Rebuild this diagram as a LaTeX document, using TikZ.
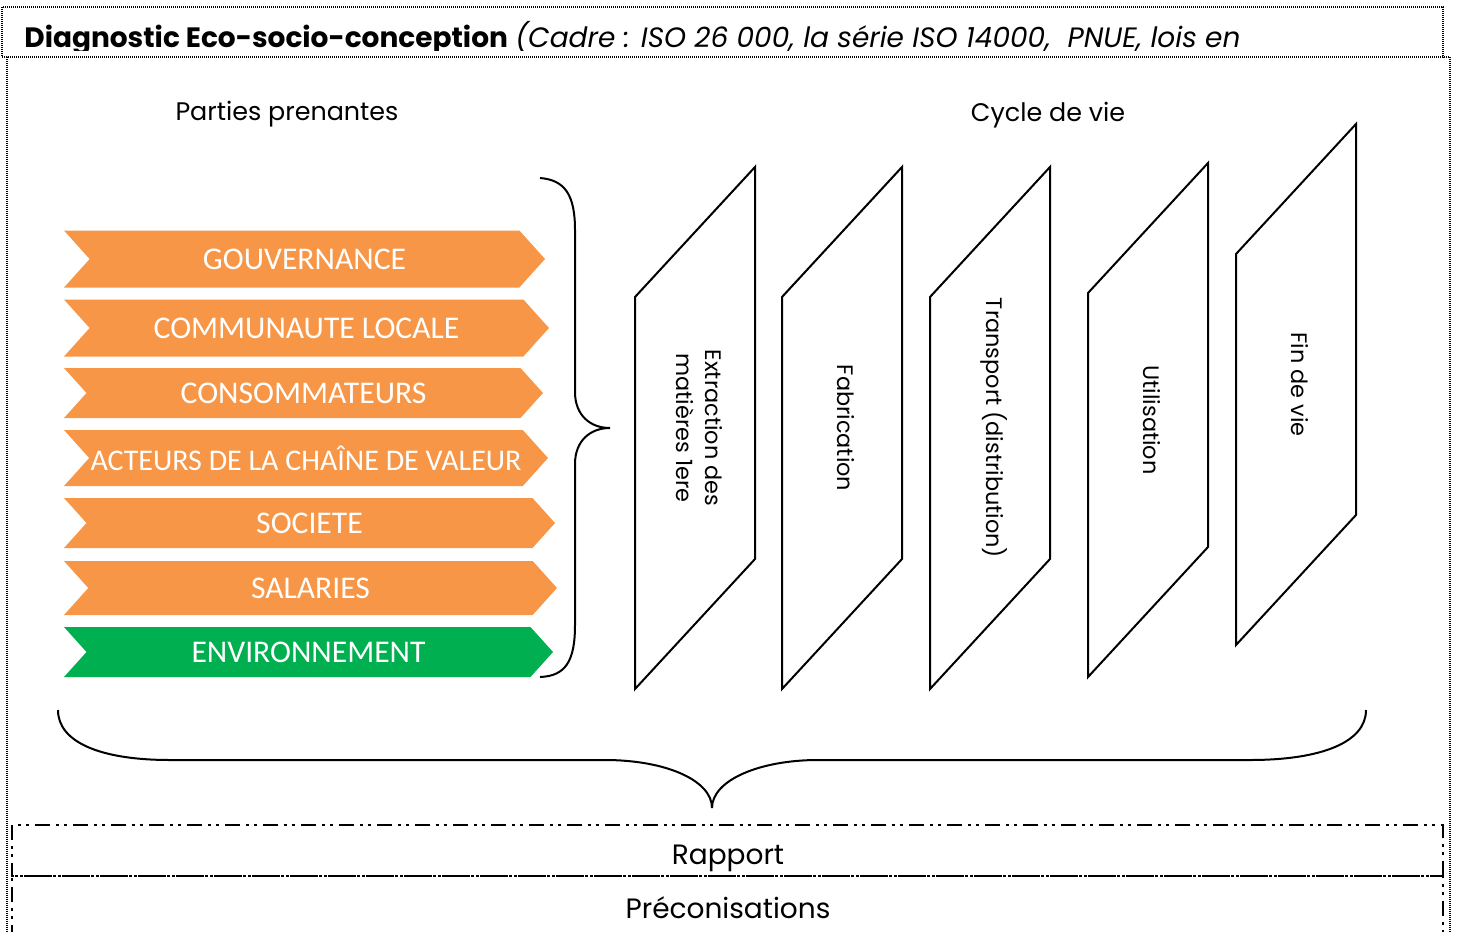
\documentclass[tikz,border=0pt]{standalone}
\usepackage{fontspec}
\setmainfont{Poppins}
\newfontfamily\chevfont{Carlito}
\definecolor{orangepp}{HTML}{F79646}
\definecolor{greenpp}{HTML}{00B050}

\begin{document}
\begin{tikzpicture}[x=0.5pt,y=-0.5pt,
				chevnode/.style={text=white, font=\chevfont\fontsize{15.8}{18}\selectfont},
				phasenode/.style={rotate=-90, align=center, font=\fontsize{11.2}{14.5}\selectfont},
				headnode/.style={font=\fontsize{12.7}{16}\selectfont},
				reportnode/.style={font=\fontsize{14}{17}\selectfont},
				dotframe/.style={line width=0.8pt, dash pattern=on 0.5pt off 0.5pt},
				dashdot/.style={line width=1pt, dash pattern=on 7.5pt off 3pt on 1.5pt off 2.5pt on 1.5pt off 3pt},
				bracepath/.style={line width=1pt},
				]
		\useasboundingbox (0,0) rectangle (1457,932);

				%Frames
				\draw[dotframe] (2,7) rectangle (1443,57);
				\draw[dotframe, line width=1.2pt] (7,940) -- (7,57) -- (1450,57) -- (1450,940);
				\draw[dashdot] (12,825) rectangle (1443,876);
				\draw[dashdot] (12,940) -- (12,876) -- (1443,876) -- (1443,940);

				%Title
				\begin{scope}
					\clip (2,7) rectangle (1443,50);
					\node[anchor=base west, inner sep=0pt, font=\fontsize{14}{17}\selectfont] (title) at (24,47)
						{\textbf{Diagnostic Eco-socio-conception} \textit{(Cadre : ISO 26 000, la série ISO 14000,\ \ PNUE, lois en}};
				\end{scope}

				%Nodes
				\node[headnode] (parties)	at (287,114)	{Parties prenantes};
				\node[headnode] (cycle)		at (1048,115)	{Cycle de vie};

				\foreach \n/\y/\h/\tip/\col/\txt in {
						gouv/259/57/545/orangepp/GOUVERNANCE,
						commu/328/57/549/orangepp/COMMUNAUTE LOCALE,
						conso/393/50/543/orangepp/CONSOMMATEURS,
						acteurs/458/56/548/orangepp/{\fontsize{15}{18}\selectfont ACTEURS DE LA CHAÎNE DE VALEUR},
						societe/523/50/555/orangepp/SOCIETE,
						salaries/588/54/557/orangepp/SALARIES,
						environ/652/50/553/greenpp/ENVIRONNEMENT}{
					\fill[\col] (64,\y-\h/2) -- (\tip-0.45*\h,\y-\h/2) -- (\tip,\y) -- (\tip-0.45*\h,\y+\h/2)
						-- (64,\y+\h/2) -- (64+0.45*\h,\y) -- cycle;
					\node[chevnode] (\n) at ({(64+\tip)/2},\y) {\txt};
				}

				\foreach \n/\xl/\yt/\hh/\txt in {
						extraction/635/297/392/{Extraction des\\matières 1ere},
						fabrication/782/297/392/{Fabrication},
						transport/930/297/392/{Transport (distribution)},
						utilisation/1088/293/384/{Utilisation},
						findevie/1236/254/391/{Fin de vie}}{
					\draw[line width=1pt, line join=miter] (\xl,\yt) -- (\xl+120,\yt-130) -- (\xl+120,\yt-130+\hh)
						-- (\xl,\yt+\hh) -- cycle;
					\node[phasenode] (\n) at (\xl+64,\yt-65+\hh/2) {\txt};
				}

				\node[reportnode] (rapport)	at (728,858)	{Rapport};
				\node[reportnode] (precon)	at (728,908)	{Préconisations};

				%Braces
				\draw[bracepath] (540,178) .. controls (565,180) and (575,195) .. (575,230) -- (575,392)
					.. controls (575,415) and (590,428) .. (610,428)
					.. controls (590,428) and (575,441) .. (575,464) -- (575,625)
					.. controls (575,662) and (565,676) .. (540,677);
				\draw[bracepath] (58,710) .. controls (58,742) and (100,760) .. (170,760) -- (605,760)
					.. controls (665,760) and (712,780) .. (712,808);
				\draw[bracepath] (1366,710) .. controls (1366,742) and (1322,760) .. (1250,760) -- (818,760)
					.. controls (760,760) and (712,780) .. (712,808);
			\end{tikzpicture}
\end{document}
